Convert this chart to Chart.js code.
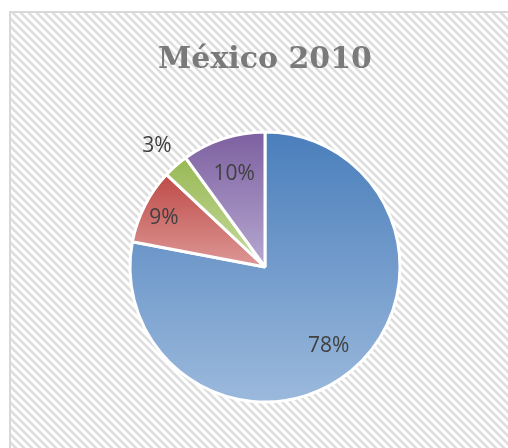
<!DOCTYPE html>
<html>
<head>
<meta charset="utf-8">
<script src="https://cdn.jsdelivr.net/npm/chart.js@4.4.1/dist/chart.umd.min.js"></script>
<style>
  html, body { margin: 0; padding: 0; background: #fff; overflow: hidden; }
  #wrap { width: 508px; height: 448px; }
</style>
</head>
<body>
<div id="wrap"><canvas id="pie" width="508" height="448"></canvas></div>
<script>
const labels = ["A", "B", "C", "D"];
const values = [78, 9, 3, 10];
const topColors = ["#4a7ebb", "#be4b48", "#98b954", "#7d60a0"];
const bottomColors = ["#9bb9dc", "#dd9896", "#c7da9f", "#b6a8d1"];

const total = values.reduce((a, b) => a + b, 0);
const RADIUS = 135;

// vertical gradient over each slice's own bounding box, dark at top
const sliceGradient = (context) => {
  const i = context.dataIndex;
  const chart = context.chart;
  const area = chart.chartArea;
  if (!area) return topColors[i];
  const cx = (area.left + area.right) / 2;
  const cy = (area.top + area.bottom) / 2;
  let before = 0;
  for (let k = 0; k < i; k++) before += values[k];
  const start = -Math.PI / 2 + (2 * Math.PI * before) / total;
  const end = start + (2 * Math.PI * values[i]) / total;
  const ys = [cy, cy + RADIUS * Math.sin(start), cy + RADIUS * Math.sin(end)];
  const inRange = (a) => {
    for (let t = a - 4 * Math.PI; t <= a + 4 * Math.PI; t += 2 * Math.PI) {
      if (t >= start && t <= end) return true;
    }
    return false;
  };
  if (inRange(Math.PI / 2)) ys.push(cy + RADIUS);
  if (inRange(-Math.PI / 2)) ys.push(cy - RADIUS);
  const g = chart.ctx.createLinearGradient(0, Math.min(...ys), 0, Math.max(...ys));
  g.addColorStop(0, topColors[i]);
  g.addColorStop(1, bottomColors[i]);
  return g;
};

// hatched frame behind the chart
const framePlugin = {
  id: "frame",
  beforeDraw(chart) {
    const ctx = chart.ctx;
    const s = 8;
    const tile = document.createElement("canvas");
    tile.width = s;
    tile.height = s;
    const t = tile.getContext("2d");
    t.fillStyle = "#ffffff";
    t.fillRect(0, 0, s, s);
    t.strokeStyle = "#dddddd";
    t.lineWidth = 2.6;
    t.beginPath();
    t.moveTo(-s, -s); t.lineTo(2 * s, 2 * s);
    t.moveTo(-s, 0); t.lineTo(s, 2 * s);
    t.moveTo(0, -s); t.lineTo(2 * s, s);
    t.stroke();
    ctx.save();
    ctx.fillStyle = "#ffffff";
    ctx.fillRect(0, 0, chart.width, chart.height);
    ctx.fillStyle = ctx.createPattern(tile, "repeat");
    ctx.fillRect(10, 12, chart.width, chart.height);
    ctx.strokeStyle = "#d9d9d9";
    ctx.lineWidth = 2;
    ctx.beginPath();
    ctx.moveTo(10, chart.height);
    ctx.lineTo(10, 12);
    ctx.lineTo(chart.width, 12);
    ctx.stroke();
    ctx.restore();
  },
};

// percentage labels, small slices go outside
const labelPlugin = {
  id: "pctLabels",
  afterDatasetsDraw(chart) {
    const ctx = chart.ctx;
    const arcs = chart.getDatasetMeta(0).data;
    ctx.save();
    ctx.font = "21px 'Open Sans'";
    ctx.fillStyle = "#404040";
    ctx.textAlign = "center";
    ctx.textBaseline = "middle";
    arcs.forEach((arc, i) => {
      const mid = (arc.startAngle + arc.endAngle) / 2;
      const pct = values[i] / total;
      const f = pct < 0.05 ? 1.21 : pct < 0.1 ? 0.84 : 0.74;
      const x = arc.x + Math.cos(mid) * arc.outerRadius * f;
      const y = arc.y + Math.sin(mid) * arc.outerRadius * f + 2;
      ctx.fillText(Math.round(pct * 100) + "%", x, y);
    });
    ctx.restore();
  },
};

new Chart(document.getElementById("pie"), {
  type: "pie",
  data: {
    labels: labels,
    datasets: [
      {
        data: values,
        backgroundColor: sliceGradient,
        borderColor: "#ffffff",
        borderWidth: 3,
        radius: RADIUS,
        hoverOffset: 0,
        offset: 0,
      },
    ],
  },
  options: {
    responsive: false,
    animation: false,
    events: [],
    layout: {
      padding: { left: 22, right: 0, top: 0, bottom: 4 },
    },
    plugins: {
      legend: { display: false },
      tooltip: { enabled: false },
      title: {
        display: true,
        text: "México 2010",
        color: "#7a7a7a",
        font: { family: "'DejaVu Serif'", size: 30, weight: "bold", lineHeight: 1.2 },
        padding: { top: 42, bottom: 12 },
      },
    },
  },
  plugins: [framePlugin, labelPlugin],
});
</script>
</body>
</html>
